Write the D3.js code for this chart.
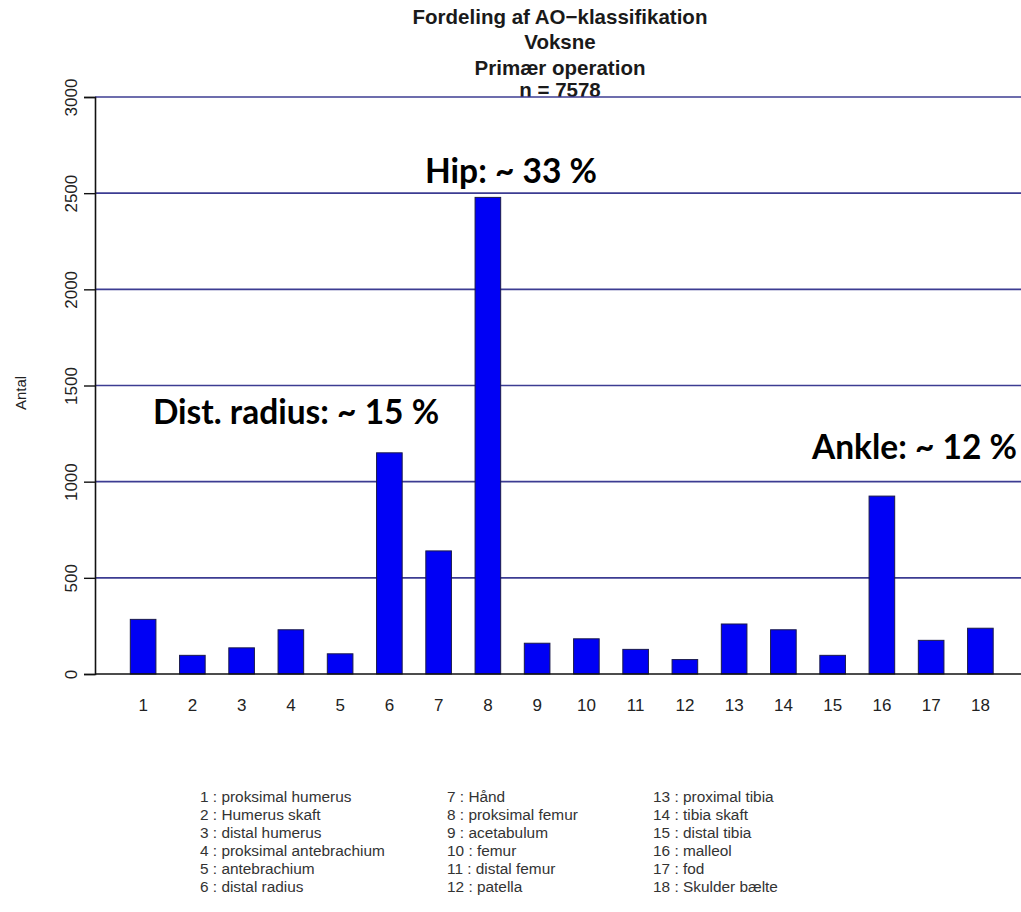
<!DOCTYPE html>
<html>
<head>
<meta charset="utf-8">
<script src="https://cdn.jsdelivr.net/npm/d3@7"></script>
<style>
  html, body { margin: 0; padding: 0; background: #fff; }
  svg { display: block; }
</style>
</head>
<body>
<svg id="chart" width="1021" height="912"></svg>
<script>
const categories = ["1","2","3","4","5","6","7","8","9","10","11","12","13","14","15","16","17","18"];
const values = [284, 97, 136, 230, 105, 1150, 640, 2478, 160, 183, 128, 75, 260, 230, 97, 925, 175, 238];
const yTicks = [0, 500, 1000, 1500, 2000, 2500, 3000];
const titleLines = ["Fordeling af AO\u2212klassifikation", "Voksne", "Primær operation", "n = 7578"];
const legendItems = [
  "1 : proksimal humerus", "2 : Humerus skaft", "3 : distal humerus",
  "4 : proksimal antebrachium", "5 : antebrachium", "6 : distal radius",
  "7 : Hånd", "8 : proksimal femur", "9 : acetabulum",
  "10 : femur", "11 : distal femur", "12 : patella",
  "13 : proximal tibia", "14 : tibia skaft", "15 : distal tibia",
  "16 : malleol", "17 : fod", "18 : Skulder bælte"
];
const annotations = ["Hip: ~ 33 %", "Dist. radius: ~ 15 %", "Ankle: ~ 12 %"];

const svg = d3.select("#chart");
const axisX = 95, plotRight = 1021;
const ARIAL = "Liberation Sans, Arial, sans-serif";

const y = d3.scaleLinear().domain([0, 3000]).range([674, 97]);
const x = d3.scaleBand().domain(categories).range([117.5, 1006]).paddingInner(0.48).paddingOuter(0.26);

// Title
const title = svg.append("g").attr("font-family", ARIAL)
  .attr("font-weight", "bold").attr("font-size", 20.5).attr("fill", "#1a1a1a").attr("text-anchor", "middle");
const titleY = [24, 49, 75, 97];
titleLines.forEach((t, i) => {
  title.append("text").attr("x", 560).attr("y", titleY[i]).text(t);
});

// Gridlines
svg.append("g").selectAll("line").data(yTicks.filter(d => d > 0)).join("line")
  .attr("x1", axisX).attr("x2", plotRight)
  .attr("y1", d => y(d)).attr("y2", d => y(d))
  .attr("stroke", "#3c3c92").attr("stroke-width", 1.6);

// Bars
svg.append("g").selectAll("rect").data(values).join("rect")
  .attr("x", (d, i) => x(categories[i]))
  .attr("width", x.bandwidth())
  .attr("y", d => y(d))
  .attr("height", d => y(0) - y(d))
  .attr("fill", "#0000f5")
  .attr("stroke", "#1a1a4a").attr("stroke-width", 1);

// Zero baseline
svg.append("line").attr("x1", axisX).attr("x2", plotRight)
  .attr("y1", y(0)).attr("y2", y(0)).attr("stroke", "#111").attr("stroke-width", 1.6);

// Y axis
const yAxis = d3.axisLeft(y).tickValues(yTicks).tickSize(11).tickFormat(d3.format("d"));
const yg = svg.append("g").attr("transform", `translate(${axisX},0)`).call(yAxis);
yg.select(".domain").attr("stroke", "#111").attr("stroke-width", 1.6);
yg.selectAll(".tick line").attr("stroke", "#111").attr("stroke-width", 1.4);
yg.selectAll(".tick text")
  .attr("font-family", ARIAL).attr("font-size", 17).attr("fill", "#222")
  .attr("x", 0).attr("y", 0).attr("dy", 0)
  .attr("text-anchor", "middle")
  .attr("transform", "translate(-18,0) rotate(-90)");

// X tick labels
const xAxis = d3.axisBottom(x).tickSize(0).tickPadding(0);
const xg = svg.append("g").attr("transform", `translate(0,${y(0)})`).call(xAxis);
xg.select(".domain").remove();
xg.selectAll(".tick text")
  .attr("y", 37).attr("dy", 0)
  .attr("font-family", ARIAL).attr("font-size", 17).attr("fill", "#222");

// Y label
svg.append("text").attr("transform", "translate(26,393) rotate(-90)")
  .attr("text-anchor", "middle").attr("font-family", ARIAL)
  .attr("font-size", 15).attr("fill", "#222").text("Antal");

// Annotations
const ann = svg.append("g").attr("font-family", "Lato, Carlito, Calibri, sans-serif")
  .attr("font-weight", "bold").attr("font-size", 33.5).attr("fill", "#000");
ann.append("text").attr("x", 511).attr("y", 183).attr("text-anchor", "middle").text(annotations[0]);
ann.append("text").attr("x", 296).attr("y", 424).attr("text-anchor", "middle").text(annotations[1]);
ann.append("text").attr("x", 1017).attr("y", 459).attr("text-anchor", "end").text(annotations[2]);

// Legend
const legCols = [200, 447, 653];
const legY0 = 802, legDy = 18;
const leg = svg.append("g").attr("font-family", ARIAL)
  .attr("font-size", 15.4).attr("fill", "#333");
leg.selectAll("text").data(legendItems).join("text")
  .attr("x", (d, i) => legCols[Math.floor(i / 6)])
  .attr("y", (d, i) => legY0 + (i % 6) * legDy)
  .text(d => d);
</script>
</body>
</html>
